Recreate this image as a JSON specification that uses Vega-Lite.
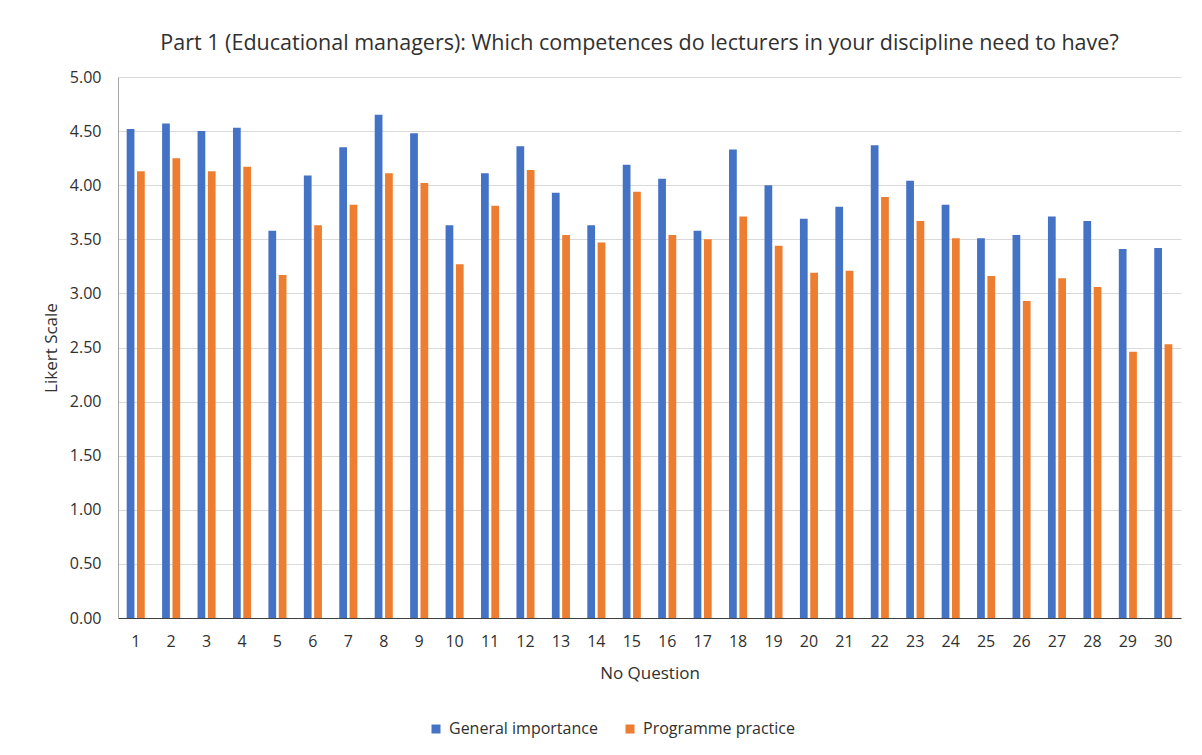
{
  "$schema": "https://vega.github.io/schema/vega-lite/v6.json",
  "autosize": {"type": "none"},
  "padding": {"left": 118, "top": 77, "right": 21, "bottom": 137},
  "width": 1063,
  "height": 541,
  "background": "white",
  "title": {
    "text": "Part 1 (Educational managers): Which competences do lecturers in your discipline need to have?",
    "font": "Open Sans",
    "fontSize": 21.5,
    "fontWeight": "normal",
    "color": "#303030",
    "anchor": "middle",
    "offset": 15,
    "dx": -10
  },
  "data": {
    "values": [
      {"q": 1, "series": "General importance", "v": 4.52}, {"q": 1, "series": "Programme practice", "v": 4.13},
      {"q": 2, "series": "General importance", "v": 4.57}, {"q": 2, "series": "Programme practice", "v": 4.25},
      {"q": 3, "series": "General importance", "v": 4.50}, {"q": 3, "series": "Programme practice", "v": 4.13},
      {"q": 4, "series": "General importance", "v": 4.53}, {"q": 4, "series": "Programme practice", "v": 4.17},
      {"q": 5, "series": "General importance", "v": 3.58}, {"q": 5, "series": "Programme practice", "v": 3.17},
      {"q": 6, "series": "General importance", "v": 4.09}, {"q": 6, "series": "Programme practice", "v": 3.63},
      {"q": 7, "series": "General importance", "v": 4.35}, {"q": 7, "series": "Programme practice", "v": 3.82},
      {"q": 8, "series": "General importance", "v": 4.65}, {"q": 8, "series": "Programme practice", "v": 4.11},
      {"q": 9, "series": "General importance", "v": 4.48}, {"q": 9, "series": "Programme practice", "v": 4.02},
      {"q": 10, "series": "General importance", "v": 3.63}, {"q": 10, "series": "Programme practice", "v": 3.27},
      {"q": 11, "series": "General importance", "v": 4.11}, {"q": 11, "series": "Programme practice", "v": 3.81},
      {"q": 12, "series": "General importance", "v": 4.36}, {"q": 12, "series": "Programme practice", "v": 4.14},
      {"q": 13, "series": "General importance", "v": 3.93}, {"q": 13, "series": "Programme practice", "v": 3.54},
      {"q": 14, "series": "General importance", "v": 3.63}, {"q": 14, "series": "Programme practice", "v": 3.47},
      {"q": 15, "series": "General importance", "v": 4.19}, {"q": 15, "series": "Programme practice", "v": 3.94},
      {"q": 16, "series": "General importance", "v": 4.06}, {"q": 16, "series": "Programme practice", "v": 3.54},
      {"q": 17, "series": "General importance", "v": 3.58}, {"q": 17, "series": "Programme practice", "v": 3.50},
      {"q": 18, "series": "General importance", "v": 4.33}, {"q": 18, "series": "Programme practice", "v": 3.71},
      {"q": 19, "series": "General importance", "v": 4.00}, {"q": 19, "series": "Programme practice", "v": 3.44},
      {"q": 20, "series": "General importance", "v": 3.69}, {"q": 20, "series": "Programme practice", "v": 3.19},
      {"q": 21, "series": "General importance", "v": 3.80}, {"q": 21, "series": "Programme practice", "v": 3.21},
      {"q": 22, "series": "General importance", "v": 4.37}, {"q": 22, "series": "Programme practice", "v": 3.89},
      {"q": 23, "series": "General importance", "v": 4.04}, {"q": 23, "series": "Programme practice", "v": 3.67},
      {"q": 24, "series": "General importance", "v": 3.82}, {"q": 24, "series": "Programme practice", "v": 3.51},
      {"q": 25, "series": "General importance", "v": 3.51}, {"q": 25, "series": "Programme practice", "v": 3.16},
      {"q": 26, "series": "General importance", "v": 3.54}, {"q": 26, "series": "Programme practice", "v": 2.93},
      {"q": 27, "series": "General importance", "v": 3.71}, {"q": 27, "series": "Programme practice", "v": 3.14},
      {"q": 28, "series": "General importance", "v": 3.67}, {"q": 28, "series": "Programme practice", "v": 3.06},
      {"q": 29, "series": "General importance", "v": 3.41}, {"q": 29, "series": "Programme practice", "v": 2.46},
      {"q": 30, "series": "General importance", "v": 3.42}, {"q": 30, "series": "Programme practice", "v": 2.53}
    ]
  },
  "mark": {"type": "bar"},
  "encoding": {
    "x": {
      "field": "q",
      "type": "ordinal",
      "title": "No Question",
      "scale": {"paddingInner": 0.49, "paddingOuter": 0.245},
      "axis": {
        "labelAngle": 0,
        "ticks": false,
        "domainColor": "#404040",
        "domainWidth": 1,
        "labelPadding": 15,
        "labelFont": "Open Sans",
        "labelFontSize": 16,
        "labelColor": "#303030",
        "titleFont": "Open Sans",
        "titleFontSize": 17,
        "titleFontWeight": "normal",
        "titleColor": "#303030",
        "titlePadding": 16
      }
    },
    "xOffset": {
      "field": "series",
      "type": "nominal",
      "scale": {"paddingInner": 0.25}
    },
    "y": {
      "field": "v",
      "type": "quantitative",
      "title": "Likert Scale",
      "scale": {"domain": [0, 5], "nice": false},
      "axis": {
        "values": [0, 0.5, 1, 1.5, 2, 2.5, 3, 3.5, 4, 4.5, 5],
        "format": ".2f",
        "ticks": false,
        "domain": true,
        "domainColor": "#a6a6a6",
        "gridColor": "#d9d9d9",
        "labelPadding": 17,
        "labelFont": "Open Sans",
        "labelFontSize": 16,
        "labelColor": "#303030",
        "titleFont": "Open Sans",
        "titleFontSize": 17,
        "titleFontWeight": "normal",
        "titleColor": "#303030",
        "titlePadding": 9
      }
    },
    "color": {
      "field": "series",
      "type": "nominal",
      "scale": {"domain": ["General importance", "Programme practice"], "range": ["#4472C4", "#ED7D31"]},
      "legend": {
        "title": null,
        "orient": "none",
        "direction": "horizontal",
        "legendX": 310,
        "legendY": 644,
        "symbolType": "square",
        "symbolSize": 81,
        "symbolStrokeWidth": 0,
        "labelFont": "Open Sans",
        "labelFontSize": 16,
        "labelColor": "#303030",
        "columnPadding": 24,
        "labelOffset": 5
      }
    }
  },
  "config": {"view": {"stroke": null}}
}
